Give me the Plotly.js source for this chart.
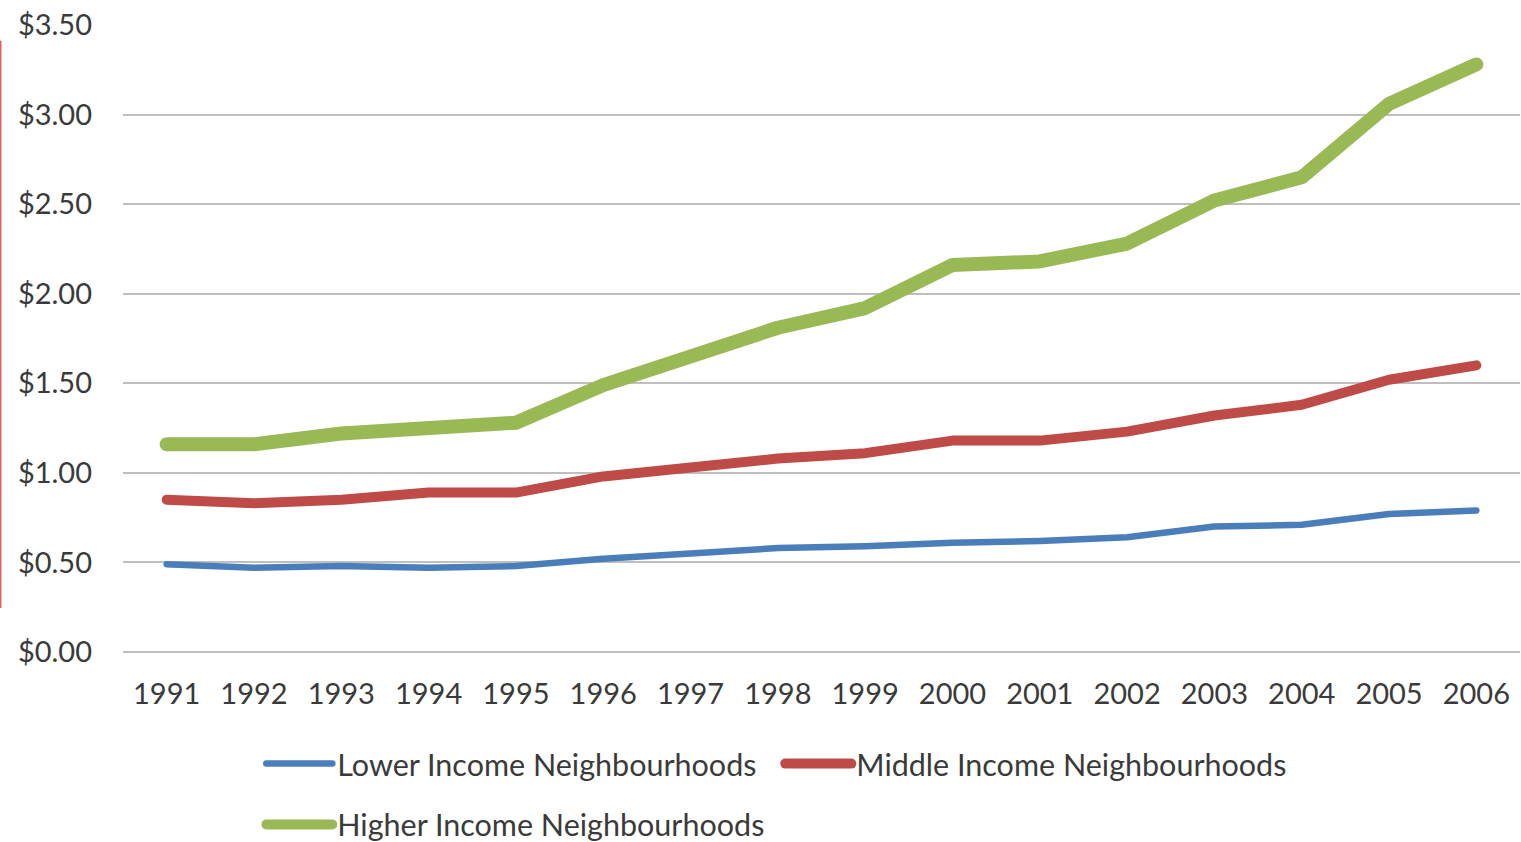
<!DOCTYPE html>
<html>
<head>
<meta charset="utf-8">
<script src="https://cdn.plot.ly/plotly-3.0.1.min.js"></script>
<style>
html,body{margin:0;padding:0;background:#fff;}
#chart{width:1521px;height:842px;}
.js-line{stroke-linejoin:round;stroke-linecap:round;}
</style>
</head>
<body>
<div id="chart"></div>
<script>
const years = ["1991","1992","1993","1994","1995","1996","1997","1998","1999","2000","2001","2002","2003","2004","2005","2006"];
const lowerIncome  = [0.49,0.47,0.48,0.47,0.48,0.52,0.55,0.58,0.59,0.61,0.62,0.64,0.70,0.71,0.77,0.79];
const middleIncome = [0.85,0.83,0.85,0.89,0.89,0.98,1.03,1.08,1.11,1.18,1.18,1.23,1.32,1.38,1.52,1.60];
const higherIncome = [1.16,1.16,1.22,1.25,1.28,1.49,1.65,1.81,1.92,2.16,2.18,2.28,2.52,2.65,3.06,3.28];
const yTicks = [0,0.5,1,1.5,2,2.5,3,3.5];
const yTickLabels = ["$0.00","$0.50","$1.00","$1.50","$2.00","$2.50","$3.00","$3.50"];

const fontFam = "Lato, 'Open Sans', sans-serif";
const txtColor = "#3a3a3a";
const traces = [
  {x: years, y: lowerIncome, name: "Lower Income Neighbourhoods", mode: "lines",
   line: {color: "#4A7EBB", width: 6.5}, legend: "legend"},
  {x: years, y: middleIncome, name: "Middle Income Neighbourhoods", mode: "lines",
   line: {color: "#BE4B48", width: 10}, legend: "legend"},
  {x: years, y: higherIncome, name: "Higher Income Neighbourhoods", mode: "lines",
   line: {color: "#98B954", width: 14}, legend: "legend2"}
];
const layout = {
  width: 1521, height: 842,
  margin: {l: 123, r: 1, t: 25, b: 190, autoexpand: false},
  paper_bgcolor: "#fff", plot_bgcolor: "#fff",
  font: {family: fontFam, size: 30, color: txtColor},
  showlegend: true,
  xaxis: {type: "category", range: [-0.5, 15.5], showgrid: false, zeroline: false,
          showline: false, ticks: "", ticklabelstandoff: 22, automargin: false,
          tickfont: {size: 29, color: txtColor}},
  yaxis: {range: [0, 3.5], tickvals: yTicks, ticktext: yTickLabels, showgrid: true,
          gridcolor: "#BFBFBF", gridwidth: 2, zeroline: true, zerolinecolor: "#BFBFBF",
          zerolinewidth: 2, showline: false, automargin: false,
          ticks: "", ticklabelstandoff: 30, tickfont: {size: 29, color: txtColor}},
  legend: {orientation: "h", x: 0.099, y: -0.136, xanchor: "left", yanchor: "top",
           itemwidth: 66, font: {size: 30.5, color: txtColor}, bgcolor: "rgba(0,0,0,0)",
           tracegroupgap: 0, entrywidth: 438, entrywidthmode: "pixels"},
  legend2: {orientation: "h", x: 0.099, y: -0.233, xanchor: "left", yanchor: "top",
            itemwidth: 66, font: {size: 30.5, color: txtColor}, bgcolor: "rgba(0,0,0,0)"},
  shapes: [{type: "line", xref: "paper", yref: "paper", x0: -0.0875, x1: -0.0875,
            y0: 0.07, y1: 0.975, line: {color: "#E06060", width: 1.5}}]
};
Plotly.newPlot("chart", traces, layout, {displayModeBar: false, staticPlot: true});
</script>
</body>
</html>
